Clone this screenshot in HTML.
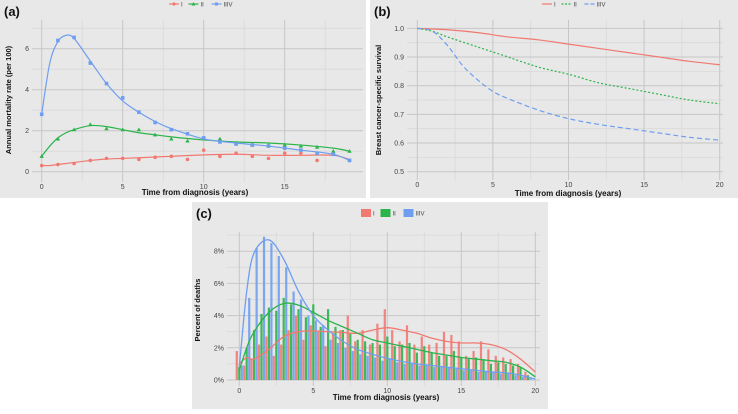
<!DOCTYPE html>
<html><head><meta charset="utf-8"><style>
body{margin:0;background:#fff;width:738px;height:409px;overflow:hidden;font-family:"Liberation Sans",sans-serif}
svg text{font-family:"Liberation Sans",sans-serif}
</style></head><body>
<svg id="fig" width="738" height="409" xmlns="http://www.w3.org/2000/svg"></svg>
<script>
// Panel (a) data
const aYears=[0,1,2,3,4,5,6,7,8,9,10,11,12,13,14,15,16,17,18,19];
const aI=[0.3,0.35,0.4,0.55,0.65,0.65,0.6,0.7,0.75,0.6,1.05,0.75,0.9,0.75,0.65,0.9,0.9,0.55,0.9,0.55];
const aII=[0.75,1.6,2.05,2.3,2.1,2.05,2.05,1.8,1.6,1.5,1.6,1.6,1.4,1.3,1.3,1.3,1.25,1.2,1.0,1.0];
const aIII=[2.8,6.4,6.55,5.3,4.3,3.6,2.9,2.4,2.05,1.85,1.65,1.45,1.35,1.3,1.25,1.15,1.05,0.9,0.85,0.55];
const aSmX=[0,0.5,1,1.5,2,3,4,5,6,7,8,10,12,14,16,18,19];
const aSmI=[0.3,0.3,0.35,0.4,0.45,0.55,0.62,0.65,0.68,0.72,0.75,0.82,0.85,0.8,0.8,0.8,0.6];
const aSmII=[0.75,1.25,1.65,1.9,2.05,2.25,2.2,2.05,1.9,1.8,1.7,1.55,1.45,1.4,1.3,1.15,1.0];
const aSmIII=[2.8,5.3,6.35,6.65,6.5,5.4,4.3,3.45,2.9,2.45,2.1,1.6,1.4,1.25,1.05,0.85,0.55];
// Panel (b) data
const bXI=[0,2,4,6,8,10,12,14,16,18,20];
const bI=[1.0,0.995,0.985,0.97,0.96,0.945,0.93,0.915,0.9,0.885,0.873];
const bXII=[0,1,2,4,6,8,10,12,14,16,18,20];
const bII=[1.0,0.99,0.97,0.935,0.9,0.865,0.84,0.81,0.79,0.77,0.75,0.737];
const bXIII=[0,1,2,3,4,5,6,8,10,12,14,16,18,20];
const bIII=[1.0,0.99,0.94,0.87,0.82,0.78,0.755,0.715,0.685,0.665,0.65,0.635,0.62,0.61];
// Panel (c) data
const cI=[1.8,0.9,1.3,2.2,2.7,1.5,2.2,3.1,4.0,2.5,3.4,3.0,2.1,2.9,3.1,4.0,2.4,3.1,2.2,3.5,4.4,3.1,2.4,3.4,2.2,2.7,2.2,2.3,3.0,2.8,2.4,1.5,1.8,2.4,1.9,1.5,1.4,1.3,1.0,0.5];
const cII=[0.8,2.0,3.1,4.1,4.5,4.3,5.1,4.7,4.4,3.9,4.7,3.3,4.4,3.3,3.1,2.9,2.5,2.4,2.3,2.2,2.7,2.1,2.2,2.3,1.7,2.1,1.7,1.5,1.5,1.8,1.4,1.3,1.4,1.3,1.0,1.1,1.0,0.9,0.8,0.3];
const cIII=[0.9,5.1,8.2,8.9,8.5,7.7,7.0,5.5,5.0,4.0,3.7,3.4,2.5,2.3,2.0,1.8,1.6,1.5,1.4,1.2,1.3,1.1,1.0,1.0,0.9,0.9,0.8,0.8,0.8,0.7,0.6,0.6,0.5,0.5,0.5,0.4,0.4,0.3,0.2,0.1];
const cSmX=[0,0.5,1,2,3,4,5,6,7,8,9,10,11,12,13,14,15,16,17,18,19,20];
const cSmI=[1.0,1.4,1.3,1.9,2.7,3.0,3.05,3.0,2.95,2.9,3.1,3.25,3.1,2.9,2.6,2.4,2.3,2.3,2.2,1.9,1.3,0.5];
const cSmII=[0.6,2.0,3.0,4.2,4.75,4.65,4.2,3.7,3.3,2.9,2.5,2.3,2.1,1.9,1.7,1.55,1.4,1.3,1.2,1.1,0.8,0.2];
const cSmIII=[0.8,5.5,7.9,8.7,7.5,5.5,4.0,3.1,2.4,1.9,1.6,1.35,1.15,1.0,0.9,0.8,0.7,0.6,0.5,0.45,0.3,0.05];
const aXTicks=[0,5,10,15], aYTicks=[0,2,4,6];
const bXTicks=[0,5,10,15,20], bYTicks=[0.5,0.6,0.7,0.8,0.9,1.0];
const cXTicks=[0,5,10,15,20], cYTicks=[0,2,4,6,8];

const R='#f07a72',G='#2cb34a',B='#6f9ef0';
const svg=document.getElementById('fig');
const NS='http://www.w3.org/2000/svg';
function el(tag,attrs,parent,txt){const e=document.createElementNS(NS,tag);for(const k in attrs)e.setAttribute(k,attrs[k]);if(txt!==undefined)e.textContent=txt;(parent||svg).appendChild(e);return e;}
function smooth(pts){let d='M'+pts[0][0]+','+pts[0][1];for(let i=0;i<pts.length-1;i++){const p0=pts[Math.max(0,i-1)],p1=pts[i],p2=pts[i+1],p3=pts[Math.min(pts.length-1,i+2)];const c1=[p1[0]+(p2[0]-p0[0])/6,p1[1]+(p2[1]-p0[1])/6],c2=[p2[0]-(p3[0]-p1[0])/6,p2[1]-(p3[1]-p1[1])/6];d+=` C${c1[0]},${c1[1]} ${c2[0]},${c2[1]} ${p2[0]},${p2[1]}`;}return d;}
function panel(name,bx,by,bw,bh,px,py,pw,ph,sx,sy,xt,yt,yfmt,xMinor,yMinor){
  const g=el('g',{});
  el('rect',{x:bx,y:by,width:bw,height:bh,fill:'#e8e8e8'},g);
  xMinor.forEach(v=>{const l=el('line',{x1:sx(v),x2:sx(v),y1:py,y2:py+ph,stroke:'#d9d9d9','stroke-width':0.8},g);});
  yMinor.forEach(v=>{el('line',{x1:px,x2:px+pw,y1:sy(v),y2:sy(v),stroke:'#d9d9d9','stroke-width':0.8},g);});
  xt.forEach(v=>{el('line',{x1:sx(v),x2:sx(v),y1:py,y2:py+ph,stroke:'#c6c6c6','stroke-width':1},g);
    const t=el('text',{x:sx(v),y:py+ph+7,'font-size':7,fill:'#444','text-anchor':'middle'},g,String(v));});
  yt.forEach(v=>{el('line',{x1:px,x2:px+pw,y1:sy(v),y2:sy(v),stroke:'#c6c6c6','stroke-width':1},g);
    const t=el('text',{x:px-3,y:sy(v)+2.5,'font-size':7,fill:'#444','text-anchor':'end'},g,yfmt(v));});
  return g;}
function label(txt,x,y,opt,name){const t=el('text',Object.assign({x:x,y:y,fill:'#111'},opt),svg,txt);return t;}

// ----- Panel A
{const sx=v=>41.7+v*16.2, sy=v=>171.7-v*20.5;
const g=panel('panel-a',0,0,366,198,32,20,331,162,sx,sy,aXTicks,aYTicks,v=>String(v),[2.5,7.5,12.5,17.5],[1,3,5,7]);
[[aSmI,R],[aSmII,G],[aSmIII,B]].forEach(([s,c],k)=>{const p=el('path',{d:smooth(aSmX.map((x,i)=>[sx(x),sy(s[i])])),fill:'none',stroke:c,'stroke-width':1.2},g);});
aYears.forEach((x,i)=>{const c=el('circle',{cx:sx(x),cy:sy(aI[i]),r:1.8,fill:R},g);
 const X=sx(x),Y=sy(aII[i]);const t=el('polygon',{points:`${X},${Y-2.2} ${X-2.2},${Y+1.6} ${X+2.2},${Y+1.6}`,fill:G},g);
 const s=el('rect',{x:sx(x)-1.8,y:sy(aIII[i])-1.8,width:3.6,height:3.6,fill:B},g);});
label('(a)',4,16,{'font-size':13,'font-weight':'bold'},'panel-a-label');
label('Time from diagnosis (years)',195,195,{'font-size':8,'font-weight':'bold','text-anchor':'middle'},'x-axis-title-a');
label('Annual mortality rate (per 100)',0,0,{'font-size':7.5,'font-weight':'bold','text-anchor':'middle',transform:'translate(11,100) rotate(-90)'},'y-axis-title-a');
}
// ----- Panel B
{const sx=v=>417.3+v*15.12, sy=v=>171.7-(v-0.5)*286.7;
const g=panel('panel-b',370,0,368,198,407,20,316,160,sx,sy,bXTicks,bYTicks,v=>v.toFixed(1),[2.5,7.5,12.5,17.5],[0.55,0.65,0.75,0.85,0.95]);
[[bXI,bI,R,''],[bXII,bII,G,'2,2'],[bXIII,bIII,B,'5,3']].forEach(([xs,s,c,da],k)=>{const p=el('path',{d:smooth(xs.map((x,i)=>[sx(x),sy(s[i])])),fill:'none',stroke:c,'stroke-width':1.2,'stroke-dasharray':da},g);});
label('(b)',374,16,{'font-size':13,'font-weight':'bold'},'panel-b-label');
label('Time from diagnosis (years)',568,196,{'font-size':8,'font-weight':'bold','text-anchor':'middle'},'x-axis-title-b');
label('Breast cancer-specific survival',0,0,{'font-size':7.5,'font-weight':'bold','text-anchor':'middle',transform:'translate(381,100) rotate(-90)'},'y-axis-title-b');
}
// ----- Panel C
{const sx=v=>239.3+v*14.8, sy=v=>380-v*16.1;
const g=panel('panel-c',192,202,356,207,227,232,313,154,sx,sy,cXTicks,cYTicks,v=>v+'%',[2.5,7.5,12.5,17.5],[1,3,5,7,9]);
[[cI,R,-0.17],[cII,G,0],[cIII,B,0.17]].forEach(([s,c,off],k)=>{s.forEach((v,i)=>{const t=i*0.5+off;const r=el('rect',{x:sx(t)-1.1,y:sy(v),width:2.2,height:sy(0)-sy(v),fill:c,opacity:0.9},g);});});
[[cSmI,R],[cSmII,G],[cSmIII,B]].forEach(([s,c],k)=>{const p=el('path',{d:smooth(cSmX.map((x,i)=>[sx(x),sy(s[i])])),fill:'none',stroke:c,'stroke-width':1.3},g);});
label('(c)',196,218,{'font-size':13,'font-weight':'bold'},'panel-c-label');
label('Time from diagnosis (years)',386,400,{'font-size':8,'font-weight':'bold','text-anchor':'middle'},'x-axis-title-c');
label('Percent of deaths',0,0,{'font-size':7.5,'font-weight':'bold','text-anchor':'middle',transform:'translate(200,310) rotate(-90)'},'y-axis-title-c');
}
// ----- Legends
function legend(name,x,y,type){const g=el('g',{});
 const items=[['I',R,''],['II',G,'2,1.5'],['IIIV',B,'4,2']];let cx=x;
 items.forEach(([t,c,da],k)=>{
  if(type==='box'){el('rect',{x:cx,y:y-4,width:10,height:8,fill:c},g);}
  else{el('line',{x1:cx,x2:cx+10,y1:y,y2:y,stroke:c,'stroke-width':1.2,'stroke-dasharray':type==='dash'?da:''},g);
   if(type==='pt'){if(k===0)el('circle',{cx:cx+5,cy:y,r:1.6,fill:c},g);else if(k===1)el('polygon',{points:`${cx+5},${y-2} ${cx+3},${y+1.5} ${cx+7},${y+1.5}`,fill:c},g);else el('rect',{x:cx+3.5,y:y-1.5,width:3,height:3,fill:c},g);}}
  const tx=el('text',{x:cx+12,y:y+2.3,'font-size':6,fill:'#444'},g,t);
  cx+=12+t.length*3.5+4;});}
legend('legend-a',169,4,'pt');
legend('legend-b',542,4,'dash');
legend('legend-c',361,213,'box');
</script>
</body></html>
